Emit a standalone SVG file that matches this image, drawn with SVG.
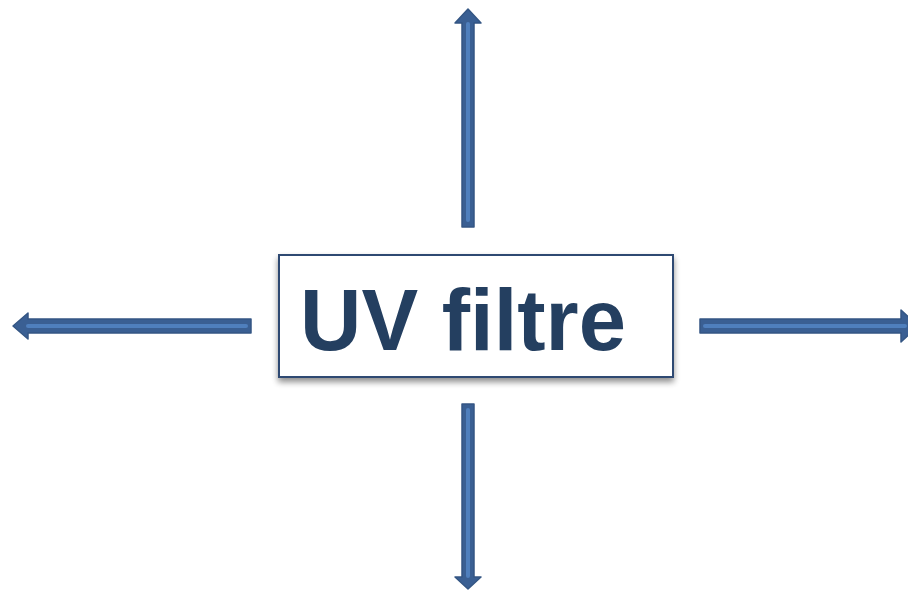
<svg xmlns="http://www.w3.org/2000/svg" width="908" height="590" viewBox="0 0 908 590">
  <defs>
    <filter id="shadow" x="-10%" y="-20%" width="120%" height="150%">
      <feGaussianBlur in="SourceAlpha" stdDeviation="3"/>
      <feOffset dx="0" dy="4" result="b"/>
      <feComponentTransfer><feFuncA type="linear" slope="0.45"/></feComponentTransfer>
      <feMerge><feMergeNode/><feMergeNode in="SourceGraphic"/></feMerge>
    </filter>
    <style>
      .arrow { fill: #3a5f93; stroke: #345684; stroke-width: 1.5; stroke-linejoin: round; }
      .core { stroke: #4f7fbd; stroke-width: 4; stroke-linecap: round; }
      .box { fill: #ffffff; stroke: #2d4a72; stroke-width: 2; }
      .label { font-family: "Liberation Sans", Arial, sans-serif; font-weight: bold; font-size: 88px; fill: #243f60; }
    </style>
  </defs>

  <g id="connectors">
    <g id="arrow-up">
      <polygon class="arrow" points="462,227 462,23 455,23 468,9 481,23 474,23 474,227"/>
      <line class="core" x1="468" y1="24" x2="468" y2="220"/>
    </g>
    <g id="arrow-down">
      <polygon class="arrow" points="462,404 462,577 455,577 468,589 481,577 474,577 474,404"/>
      <line class="core" x1="468" y1="410" x2="468" y2="576"/>
    </g>
    <g id="arrow-left">
      <polygon class="arrow" points="251,319 28,319 28,313 13,326 28,339 28,333 251,333"/>
      <line class="core" x1="28" y1="326" x2="246" y2="326"/>
    </g>
    <g id="arrow-right">
      <polygon class="arrow" points="700,319 901,319 901,310 918,326 901,342 901,333 700,333"/>
      <line class="core" x1="705" y1="326" x2="905" y2="326"/>
    </g>
  </g>

  <g id="node-uv-filtre">
    <rect class="box" x="279" y="255" width="394" height="122" filter="url(#shadow)"/>
    <text class="label" x="300" y="350" textLength="326" lengthAdjust="spacingAndGlyphs">UV filtre</text>
  </g>
</svg>
